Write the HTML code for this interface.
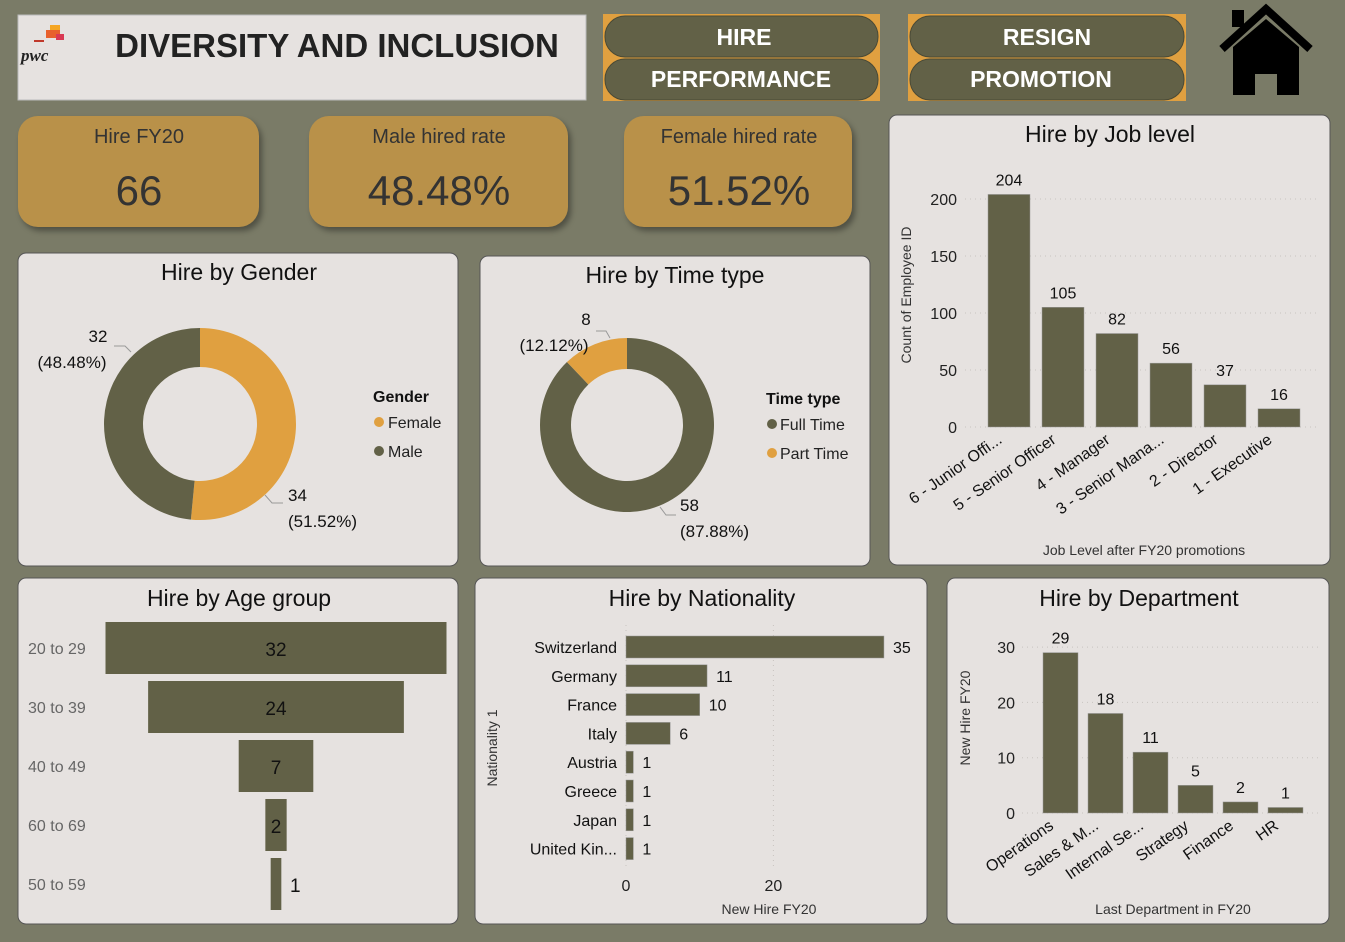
<!DOCTYPE html>
<html><head><meta charset="utf-8"><style>
html,body{margin:0;padding:0;background:#7a7b67;}
svg{display:block;font-family:"Liberation Sans",sans-serif;}
</style></head><body>
<svg id="s" width="1345" height="942" viewBox="0 0 1345 942">
<rect x="0" y="0" width="1345" height="942" fill="#7a7b67"/>
<g>
<rect x="18" y="15" width="568" height="85" fill="#e6e2e0" stroke="#bbb"/>
<g>
<rect x="50" y="25" width="10" height="12" fill="#f5a623"/><rect x="46" y="30" width="14" height="8" fill="#e8602c"/><rect x="56" y="34" width="8" height="6" fill="#d93954"/><rect x="34" y="40" width="10" height="2" fill="#c0392b"/>
<text x="21" y="61" font-family="Liberation Serif,serif" font-style="italic" font-weight="bold" font-size="17" fill="#222">pwc</text>
</g>
<text x="337" y="57" text-anchor="middle" font-size="33" font-weight="bold" fill="#222">DIVERSITY AND INCLUSION</text>
</g>
<g>
<rect x="603" y="14" width="277" height="87" fill="#e0a040"/>
<rect x="605" y="16" width="273" height="41" rx="20" fill="#626147" stroke="#4a4a36"/>
<text x="744" y="45" text-anchor="middle" font-size="23" font-weight="bold" fill="#fff">HIRE</text>
<rect x="605" y="59" width="273" height="41" rx="20" fill="#626147" stroke="#4a4a36"/>
<text x="741" y="87" text-anchor="middle" font-size="23" font-weight="bold" fill="#fff">PERFORMANCE</text>
</g>
<g>
<rect x="908" y="14" width="278" height="87" fill="#e0a040"/>
<rect x="910" y="16" width="274" height="41" rx="20" fill="#626147" stroke="#4a4a36"/>
<text x="1047" y="45" text-anchor="middle" font-size="23" font-weight="bold" fill="#fff">RESIGN</text>
<rect x="910" y="59" width="274" height="41" rx="20" fill="#626147" stroke="#4a4a36"/>
<text x="1041" y="87" text-anchor="middle" font-size="23" font-weight="bold" fill="#fff">PROMOTION</text>
</g>
<g>
<polyline points="1222,49 1266,9 1310,49" fill="none" stroke="#000" stroke-width="8"/>
<rect x="1232" y="10" width="12" height="17" fill="#000"/>
<polygon points="1233,47 1266,19 1299,47 1299,95 1277,95 1277,74 1255,74 1255,95 1233,95" fill="#000"/>
</g>
<g>
<rect x="18" y="116" width="241" height="111" rx="20" fill="#b99149" style="filter:drop-shadow(3px 4px 3px rgba(0,0,0,.35))"/>
<text x="139" y="143" text-anchor="middle" font-size="20" fill="#333">Hire FY20</text>
<text x="139" y="205" text-anchor="middle" font-size="42" fill="#333">66</text>
</g>
<g>
<rect x="309" y="116" width="259" height="111" rx="20" fill="#b99149" style="filter:drop-shadow(3px 4px 3px rgba(0,0,0,.35))"/>
<text x="439" y="143" text-anchor="middle" font-size="20" fill="#333">Male hired rate</text>
<text x="439" y="205" text-anchor="middle" font-size="42" fill="#333">48.48%</text>
</g>
<g>
<rect x="624" y="116" width="228" height="111" rx="20" fill="#b99149" style="filter:drop-shadow(3px 4px 3px rgba(0,0,0,.35))"/>
<text x="739" y="143" text-anchor="middle" font-size="20" fill="#333">Female hired rate</text>
<text x="739" y="205" text-anchor="middle" font-size="42" fill="#333">51.52%</text>
</g>
<rect x="889" y="115" width="441" height="450" rx="8" fill="#e6e2e0" stroke="#555"/>
<rect x="18" y="253" width="440" height="313" rx="8" fill="#e6e2e0" stroke="#555"/>
<rect x="480" y="256" width="390" height="310" rx="8" fill="#e6e2e0" stroke="#555"/>
<rect x="18" y="578" width="440" height="346" rx="8" fill="#e6e2e0" stroke="#555"/>
<rect x="475" y="578" width="452" height="346" rx="8" fill="#e6e2e0" stroke="#555"/>
<rect x="947" y="578" width="382" height="346" rx="8" fill="#e6e2e0" stroke="#555"/>
<text x="1110" y="142" text-anchor="middle" font-size="23" fill="#111">Hire by Job level</text>
<text x="239" y="280" text-anchor="middle" font-size="23" fill="#111">Hire by Gender</text>
<text x="675" y="283" text-anchor="middle" font-size="23" fill="#111">Hire by Time type</text>
<text x="239" y="606" text-anchor="middle" font-size="23" fill="#111">Hire by Age group</text>
<text x="702" y="606" text-anchor="middle" font-size="23" fill="#111">Hire by Nationality</text>
<text x="1139" y="606" text-anchor="middle" font-size="23" fill="#111">Hire by Department</text>
<g id="charts"></g>
</svg>
<script>
const jobCats=["6 - Junior Offi...","5 - Senior Officer","4 - Manager","3 - Senior Mana...","2 - Director","1 - Executive"];
const jobVals=[204,105,82,56,37,16];
const jobTicks=[0,50,100,150,200];
const genderCats=["Female","Male"];
const genderVals=[34,32];
const timeCats=["Full Time","Part Time"];
const timeVals=[58,8];
const ageCats=["20 to 29","30 to 39","40 to 49","60 to 69","50 to 59"];
const ageVals=[32,24,7,2,1];
const natCats=["Switzerland","Germany","France","Italy","Austria","Greece","Japan","United Kin..."];
const natVals=[35,11,10,6,1,1,1,1];
const natTicks=[0,20];
const depCats=["Operations","Sales & M...","Internal Se...","Strategy","Finance","HR"];
const depVals=[29,18,11,5,2,1];
const depTicks=[0,10,20,30];

const NS="http://www.w3.org/2000/svg";
const root=document.getElementById('charts');
const BAR="#626147",GOLD="#e0a040";
function mk(tag,attrs,parent,txt){const e=document.createElementNS(NS,tag);for(const k in attrs)e.setAttribute(k,attrs[k]);if(txt!==undefined)e.textContent=txt;(parent||root).appendChild(e);return e;}
function grp(name){const g=mk('g',{});


return g;}

(function(){const g=grp('job-level-chart');
const y=v=>427-v*1.14;const x0=988,step=54,bw=42;
jobTicks.forEach(t=>{mk('line',{x1:965,x2:1320,y1:y(t),y2:y(t),stroke:'#c8c4c0','stroke-dasharray':'1 4'},g);
const tl=mk('text',{x:957,y:y(t)+6,'text-anchor':'end','font-size':16,fill:'#222'},g,t);

});
jobVals.forEach((v,i)=>{const r=mk('rect',{x:x0+i*step,y:y(v),width:bw,height:v*1.14,fill:BAR,stroke:'#999','stroke-width':0.5},g);


mk('text',{x:x0+i*step+bw/2,y:y(v)-9,'text-anchor':'middle','font-size':16,fill:'#111'},g,v);
const cx=x0+i*step+bw/2-6;
const l=mk('text',{x:cx,y:442,'text-anchor':'end','font-size':16,fill:'#111',transform:`rotate(-35 ${cx} 442)`},g,jobCats[i]);

});
mk('text',{x:911,y:295,'text-anchor':'middle','font-size':14,fill:'#333',transform:'rotate(-90 911 295)'},g,'Count of Employee ID');
mk('text',{x:1144,y:555,'text-anchor':'middle','font-size':14,fill:'#333'},g,'Job Level after FY20 promotions');})();

function arc(cx,cy,R,r,a0,a1){const p=(a,rad)=>[cx+rad*Math.sin(a),cy-rad*Math.cos(a)];const lg=(a1-a0)>Math.PI?1:0;
const [x1,y1]=p(a0,R),[x2,y2]=p(a1,R),[x3,y3]=p(a1,r),[x4,y4]=p(a0,r);
return `M${x1} ${y1}A${R} ${R} 0 ${lg} 1 ${x2} ${y2}L${x3} ${y3}A${r} ${r} 0 ${lg} 0 ${x4} ${y4}Z`;}

(function(){const g=grp('gender-donut');const tot=genderVals.reduce((a,b)=>a+b,0);let a=0;const cols=[GOLD,BAR];
genderVals.forEach((v,i)=>{const a1=a+v/tot*2*Math.PI;const p=mk('path',{d:arc(200,424,96,57,a,a1),fill:cols[i]},g);

a=a1;});
const pct=v=>(v/tot*100).toFixed(2)+'%';
mk('text',{x:98,y:342,'text-anchor':'middle','font-size':17,fill:'#111'},g,genderVals[1]);
mk('text',{x:72,y:368,'text-anchor':'middle','font-size':17,fill:'#111'},g,'('+pct(genderVals[1])+')');
mk('polyline',{points:'114,346 125,346 131,352',fill:'none',stroke:'#999'},g);
mk('text',{x:288,y:501,'font-size':17,fill:'#111'},g,genderVals[0]);
mk('text',{x:288,y:527,'font-size':17,fill:'#111'},g,'('+pct(genderVals[0])+')');
mk('polyline',{points:'265,495 272,503 283,503',fill:'none',stroke:'#999'},g);
mk('text',{x:373,y:402,'font-size':16,'font-weight':'bold',fill:'#111'},g,'Gender');
genderCats.forEach((c,i)=>{mk('circle',{cx:379,cy:422+i*29,r:5,fill:cols[i]},g);
const t=mk('text',{x:388,y:428+i*29,'font-size':16,fill:'#222'},g,c);

});})();

(function(){const g=grp('time-type-donut');const tot=timeVals.reduce((a,b)=>a+b,0);let a=0;const cols=[BAR,GOLD];
timeVals.forEach((v,i)=>{const a1=a+v/tot*2*Math.PI;const p=mk('path',{d:arc(627,425,87,56,a,a1),fill:cols[i]},g);

a=a1;});
const pct=v=>(v/tot*100).toFixed(2)+'%';
mk('text',{x:586,y:325,'text-anchor':'middle','font-size':17,fill:'#111'},g,timeVals[1]);
mk('text',{x:554,y:351,'text-anchor':'middle','font-size':17,fill:'#111'},g,'('+pct(timeVals[1])+')');
mk('polyline',{points:'596,331 606,331 610,338',fill:'none',stroke:'#999'},g);
mk('text',{x:680,y:511,'font-size':17,fill:'#111'},g,timeVals[0]);
mk('text',{x:680,y:537,'font-size':17,fill:'#111'},g,'('+pct(timeVals[0])+')');
mk('polyline',{points:'660,507 666,515 676,515',fill:'none',stroke:'#999'},g);
mk('text',{x:766,y:404,'font-size':16,'font-weight':'bold',fill:'#111'},g,'Time type');
timeCats.forEach((c,i)=>{mk('circle',{cx:772,cy:424+i*29,r:5,fill:cols[i]},g);
const t=mk('text',{x:780,y:430+i*29,'font-size':16,fill:'#222'},g,c);

});})();

(function(){const g=grp('age-funnel');const cx=276,k=341/Math.max(...ageVals);
ageVals.forEach((v,i)=>{const y0=622+i*59,w=Math.max(v*k,10);
const r=mk('rect',{x:cx-w/2,y:y0,width:w,height:52,fill:BAR},g);


mk('text',{x:28,y:y0+32,'font-size':16,fill:'#666'},g,ageCats[i]);
const inside=w>15;mk('text',{x:inside?cx:cx+w/2+14,y:y0+34,'text-anchor':'middle','font-size':19,fill:'#111'},g,v);});})();

(function(){const g=grp('nationality-chart');const x=v=>626+v*7.37;
natTicks.forEach(t=>{mk('line',{x1:x(t),x2:x(t),y1:625,y2:870,stroke:'#c8c4c0','stroke-dasharray':'1 4'},g);
mk('text',{x:x(t),y:891,'text-anchor':'middle','font-size':16,fill:'#222'},g,t);});
natVals.forEach((v,i)=>{const cy=647+i*28.8;
const r=mk('rect',{x:x(0),y:cy-11,width:v*7.37,height:22,fill:BAR,stroke:'#999','stroke-width':0.5},g);


mk('text',{x:617,y:cy+6,'text-anchor':'end','font-size':16,fill:'#111'},g,natCats[i]);
mk('text',{x:x(v)+9,y:cy+6,'font-size':16,fill:'#111'},g,v);});
mk('text',{x:497,y:748,'text-anchor':'middle','font-size':14,fill:'#333',transform:'rotate(-90 497 748)'},g,'Nationality 1');
mk('text',{x:769,y:914,'text-anchor':'middle','font-size':14,fill:'#333'},g,'New Hire FY20');})();

(function(){const g=grp('department-chart');const y=v=>813-v*5.53;const x0=1043,step=45,bw=35;
depTicks.forEach(t=>{mk('line',{x1:1022,x2:1320,y1:y(t),y2:y(t),stroke:'#c8c4c0','stroke-dasharray':'1 4'},g);
mk('text',{x:1015,y:y(t)+6,'text-anchor':'end','font-size':16,fill:'#222'},g,t);});
depVals.forEach((v,i)=>{const r=mk('rect',{x:x0+i*step,y:y(v),width:bw,height:v*5.53,fill:BAR,stroke:'#999','stroke-width':0.5},g);


mk('text',{x:x0+i*step+bw/2,y:y(v)-9,'text-anchor':'middle','font-size':16,fill:'#111'},g,v);
const cx=x0+i*step+bw/2-6;
mk('text',{x:cx,y:828,'text-anchor':'end','font-size':16,fill:'#111',transform:`rotate(-35 ${cx} 828)`},g,depCats[i]);});
mk('text',{x:970,y:718,'text-anchor':'middle','font-size':14,fill:'#333',transform:'rotate(-90 970 718)'},g,'New Hire FY20');
mk('text',{x:1173,y:914,'text-anchor':'middle','font-size':14,fill:'#333'},g,'Last Department in FY20');})();
</script>
</body></html>
